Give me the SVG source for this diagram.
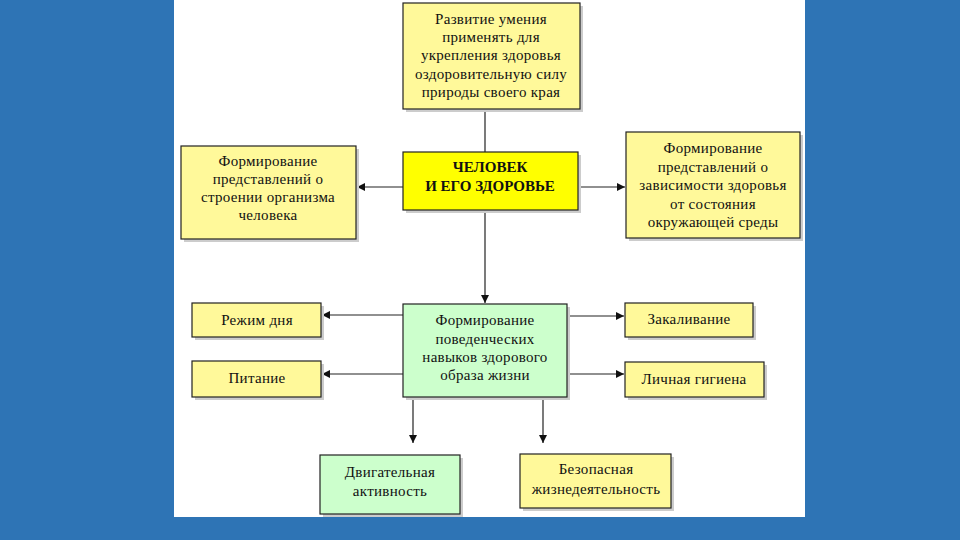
<svg xmlns="http://www.w3.org/2000/svg" width="960" height="540" viewBox="0 0 960 540">
<defs>
<style>
.b{stroke:#222;stroke-width:1.2}
.y{fill:#FFF99A}
.yy{fill:#FFFF00}
.g{fill:#CCFFCC}
.sh{fill:#CCCCCC}
text{font-family:"Liberation Serif","Times New Roman",serif;font-size:15px;letter-spacing:0.3px;fill:#111;text-anchor:middle}
.bold{font-weight:bold;letter-spacing:0}
.c{stroke:#222;stroke-width:1.2;fill:none}
</style>
<marker id="ah" viewBox="0 0 10 10" refX="10" refY="5" markerWidth="8" markerHeight="8" markerUnits="userSpaceOnUse" orient="auto">
<path d="M0,0 L10,5 L0,10 z" fill="#111"/>
</marker>
</defs>
<rect x="0" y="0" width="960" height="540" fill="#2E74B5"/>
<rect x="174" y="0" width="631" height="517" fill="#FFFFFF"/>

<g id="connectors">
<line class="c" x1="485" y1="109" x2="485" y2="152"/>
<line class="c" x1="485" y1="210" x2="485" y2="303" marker-end="url(#ah)"/>
<line class="c" x1="403" y1="187" x2="357" y2="187" marker-end="url(#ah)"/>
<line class="c" x1="578" y1="187" x2="625" y2="187" marker-end="url(#ah)"/>
<line class="c" x1="403" y1="315" x2="322" y2="315" marker-end="url(#ah)"/>
<line class="c" x1="403" y1="374" x2="322" y2="374" marker-end="url(#ah)"/>
<line class="c" x1="567" y1="316" x2="624" y2="316" marker-end="url(#ah)"/>
<line class="c" x1="567" y1="374" x2="624" y2="374" marker-end="url(#ah)"/>
<line class="c" x1="413" y1="397" x2="413" y2="443" marker-end="url(#ah)"/>
<line class="c" x1="543" y1="397" x2="543" y2="443" marker-end="url(#ah)"/>
</g>

<g id="n-top">
<rect class="sh" x="406" y="6" width="177" height="106"/>
<rect class="y b" x="403" y="3" width="177" height="106"/>
<text x="491" y="24">Развитие умения</text>
<text x="491" y="42">применять  для</text>
<text x="491" y="60">укрепления здоровья</text>
<text x="491" y="79">оздоровительную силу</text>
<text x="491" y="97">природы своего края</text>
</g>

<g id="n-left">
<rect class="sh" x="184" y="149" width="175" height="93"/>
<rect class="y b" x="181" y="146" width="175" height="93"/>
<text x="268" y="166">Формирование</text>
<text x="268" y="184">представлений о</text>
<text x="268" y="202">строении организма</text>
<text x="268" y="220">человека</text>
</g>

<g id="n-center">
<rect class="sh" x="406" y="155" width="175" height="58"/>
<rect class="yy b" x="403" y="152" width="175" height="58"/>
<text class="bold" x="490" y="172">ЧЕЛОВЕК</text>
<text class="bold" x="490" y="191">И ЕГО ЗДОРОВЬЕ</text>
</g>

<g id="n-right">
<rect class="sh" x="629" y="135" width="174" height="106"/>
<rect class="y b" x="626" y="132" width="174" height="106"/>
<text x="713" y="153">Формирование</text>
<text x="713" y="172">представлений о</text>
<text x="713" y="190">зависимости здоровья</text>
<text x="713" y="209">от состояния</text>
<text x="713" y="227">окружающей среды</text>
</g>

<g id="n-green">
<rect class="sh" x="406" y="307" width="164" height="93"/>
<rect class="g b" x="403" y="304" width="164" height="93"/>
<text x="485" y="325">Формирование</text>
<text x="485" y="344">поведенческих</text>
<text x="485" y="362">навыков здорового</text>
<text x="485" y="380">образа жизни</text>
</g>

<g id="n-rezhim">
<rect class="sh" x="195" y="306" width="129" height="34"/>
<rect class="y b" x="192" y="303" width="129" height="34"/>
<text x="257" y="325">Режим дня</text>
</g>

<g id="n-pitanie">
<rect class="sh" x="195" y="364" width="129" height="36"/>
<rect class="y b" x="192" y="361" width="129" height="36"/>
<text x="257" y="383">Питание</text>
</g>

<g id="n-zakal">
<rect class="sh" x="628" y="306" width="128" height="34"/>
<rect class="y b" x="625" y="303" width="128" height="34"/>
<text x="689" y="324">Закаливание</text>
</g>

<g id="n-gigiena">
<rect class="sh" x="628" y="365" width="139" height="35"/>
<rect class="y b" x="625" y="362" width="139" height="35"/>
<text x="694" y="384">Личная гигиена</text>
</g>

<g id="n-dvig">
<rect class="sh" x="323" y="458" width="140" height="59"/>
<rect class="g b" x="320" y="455" width="140" height="59"/>
<text x="390" y="477">Двигательная</text>
<text x="390" y="496">активность</text>
</g>

<g id="n-bezop">
<rect class="sh" x="523" y="457" width="151" height="54"/>
<rect class="y b" x="520" y="454" width="151" height="54"/>
<text x="596" y="474">Безопасная</text>
<text x="596" y="494">жизнедеятельность</text>
</g>
</svg>
